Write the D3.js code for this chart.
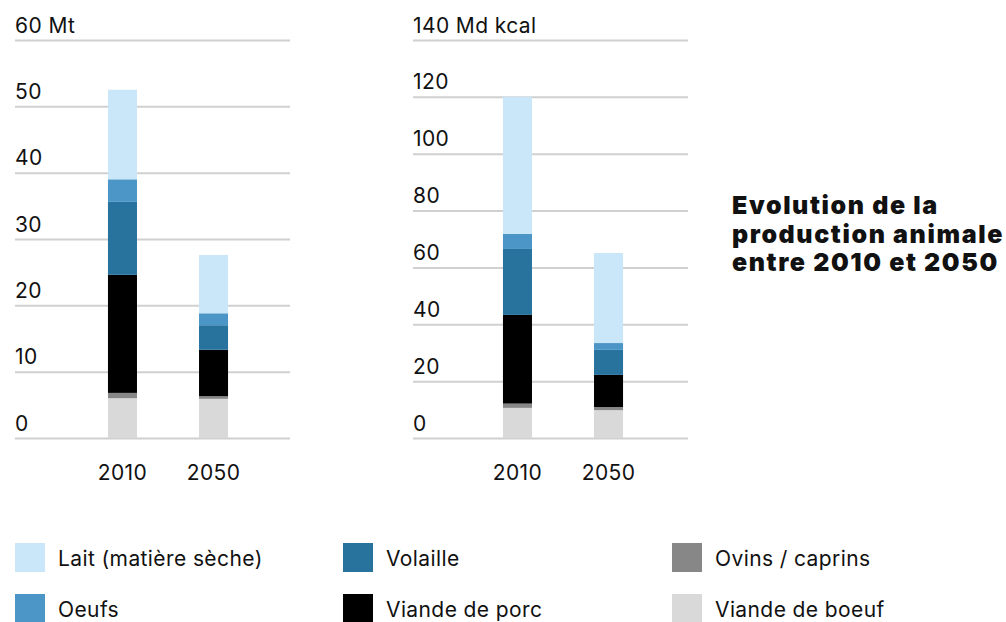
<!DOCTYPE html>
<html>
<head>
<meta charset="utf-8">
<script src="https://cdn.jsdelivr.net/npm/d3@7"></script>
<style>
  html, body { margin: 0; padding: 0; background: #fff; }
  svg text { font-family: Inter, Roboto, sans-serif; fill: #111; }
</style>
</head>
<body>
<svg id="chart" width="1006" height="622"></svg>
<script>
// ---- Data ----
const years = ["2010", "2050"];
const seriesKeys = ["boeuf", "ovins", "porc", "volaille", "oeufs", "lait"];
const seriesLabels = ["Viande de boeuf", "Ovins / caprins", "Viande de porc", "Volaille", "Oeufs", "Lait (matière sèche)"];
const seriesColors = ["#d9d9d9", "#878787", "#000000", "#28729e", "#4b96c6", "#c9e7f8"];

// Mass (Mt)
const massBoeuf = [6.0, 5.9];
const massOvins = [0.8, 0.4];
const massPorc = [17.8, 7.0];
const massVolaille = [11.0, 3.7];
const massOeufs = [3.4, 1.8];
const massLait = [13.5, 8.8];
const massTicks = [0, 10, 20, 30, 40, 50, 60];
const massUnit = "Mt";

// Energy (Md kcal)
const kcalBoeuf = [10.6, 9.8];
const kcalOvins = [1.5, 1.1];
const kcalPorc = [31.2, 11.3];
const kcalVolaille = [23.2, 8.8];
const kcalOeufs = [5.3, 2.4];
const kcalLait = [48.2, 31.7];
const kcalTicks = [0, 20, 40, 60, 80, 100, 120, 140];
const kcalUnit = "Md kcal";

const titleLines = ["Evolution de la", "production animale", "entre 2010 et 2050"];
const legendOrder = ["lait", "oeufs", "volaille", "porc", "ovins", "boeuf"];

// ---- Build ----
const svg = d3.select("#chart");
const FONT = "Inter, Roboto, sans-serif";
const FS = "21px";
const LS = "0.4px";

function buildRows(vals) {
  return years.map((y, i) => {
    const row = { year: y };
    seriesKeys.forEach((k, j) => row[k] = vals[j][i]);
    return row;
  });
}

function drawChart(opts) {
  const g = svg.append("g").attr("transform", `translate(${opts.left},0)`);
  const width = 275;
  const y = d3.scaleLinear().domain([0, d3.max(opts.ticks)]).range([438, 40]);
  const x = d3.scaleBand().domain(years).range(opts.xRange).paddingInner(0.6813).paddingOuter(0.34);

  const axis = d3.axisRight(y)
    .tickValues(opts.ticks)
    .tickSize(width)
    .tickFormat(d => d === d3.max(opts.ticks) ? `${d} ${opts.unit}` : d);
  const ax = g.append("g").call(axis);
  ax.select(".domain").remove();
  ax.selectAll(".tick line").attr("stroke", "#d0d0d0").attr("stroke-width", 2);
  ax.selectAll(".tick text")
    .attr("x", 0).attr("dy", -8).attr("y", 0)
    .attr("text-anchor", "start")
    .style("font-size", FS)
    .style("letter-spacing", LS)
    .style("font-family", FONT)
    .attr("fill", "#111");

  const stack = d3.stack().keys(seriesKeys);
  const data = stack(buildRows(opts.values));
  g.append("g").selectAll("g").data(data).join("g")
    .attr("fill", (d, i) => seriesColors[i])
    .selectAll("rect").data(d => d).join("rect")
    .attr("x", d => x(d.data.year) - opts.left)
    .attr("width", x.bandwidth())
    .attr("y", d => y(d[1]))
    .attr("height", d => y(d[0]) - y(d[1]));

  g.append("g").selectAll("text").data(years).join("text")
    .attr("x", d => x(d) - opts.left + x.bandwidth() / 2)
    .attr("y", 480)
    .attr("text-anchor", "middle")
    .style("font-size", FS)
    .style("letter-spacing", LS)
    .text(d => d);
}

drawChart({
  left: 15, ticks: massTicks, unit: massUnit, xRange: [77, 259],
  values: [massBoeuf, massOvins, massPorc, massVolaille, massOeufs, massLait]
});
drawChart({
  left: 413, ticks: kcalTicks, unit: kcalUnit, xRange: [472, 654],
  values: [kcalBoeuf, kcalOvins, kcalPorc, kcalVolaille, kcalOeufs, kcalLait]
});

// Title
const title = svg.append("text")
  .attr("x", 732).attr("y", 214)
  .style("font-size", "25px").style("font-weight", "900")
  .style("letter-spacing", "1.6px");
title.selectAll("tspan").data(titleLines).join("tspan")
  .attr("x", 732).attr("dy", (d, i) => i === 0 ? 0 : 28.5)
  .text(d => d);

// Legend
const legCols = [15, 343, 672];
const legRows = [543, 594];
const leg = svg.append("g");
legendOrder.forEach((k, i) => {
  const idx = seriesKeys.indexOf(k);
  const cx = legCols[Math.floor(i / 2)];
  const cy = legRows[i % 2];
  leg.append("rect").attr("x", cx).attr("y", cy).attr("width", 30).attr("height", 29)
    .attr("fill", seriesColors[idx]);
  leg.append("text").attr("x", cx + 43).attr("y", cy + 23)
    .style("font-size", FS).style("letter-spacing", LS).text(seriesLabels[idx]);
});
</script>
</body>
</html>
